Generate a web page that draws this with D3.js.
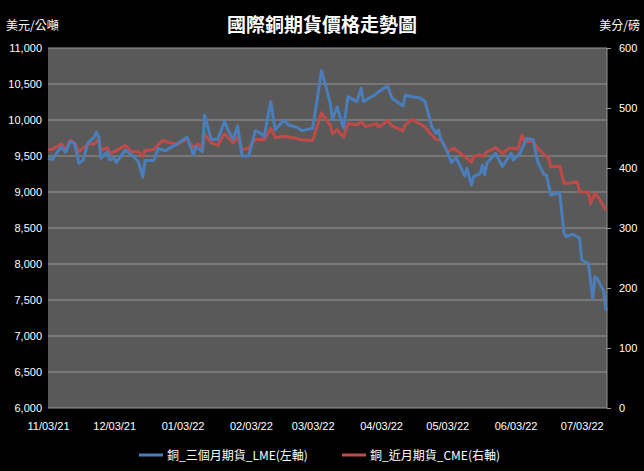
<!DOCTYPE html>
<html><head><meta charset="utf-8">
<script src="https://cdn.jsdelivr.net/npm/d3@7"></script>
<style>body{margin:0;background:#000}svg{display:block}text{font-family:"Noto Sans CJK TC","Noto Sans",sans-serif;fill:#fff}</style>
</head><body>
<script>
const lmeDates=["2021-11-03","2021-11-05","2021-11-09","2021-11-11","2021-11-13","2021-11-15","2021-11-17","2021-11-19","2021-11-21","2021-11-24","2021-11-25","2021-11-26","2021-11-27","2021-11-30","2021-12-01","2021-12-03","2021-12-04","2021-12-08","2021-12-11","2021-12-14","2021-12-16","2021-12-17","2021-12-21","2021-12-23","2021-12-26","2022-01-01","2022-01-05","2022-01-08","2022-01-09","2022-01-12","2022-01-13","2022-01-14","2022-01-16","2022-01-19","2022-01-22","2022-01-24","2022-01-26","2022-01-28","2022-01-30","2022-02-02","2022-02-05","2022-02-07","2022-02-09","2022-02-12","2022-02-14","2022-02-18","2022-02-20","2022-02-24","2022-02-26","2022-03-03","2022-03-05","2022-03-07","2022-03-09","2022-03-11","2022-03-12","2022-03-14","2022-03-17","2022-03-19","2022-03-23","2022-03-25","2022-03-26","2022-03-31","2022-04-02","2022-04-06","2022-04-08","2022-04-13","2022-04-14","2022-04-17","2022-04-21","2022-04-23","2022-04-26","2022-04-28","2022-04-29","2022-04-30","2022-05-03","2022-05-05","2022-05-07","2022-05-11","2022-05-12","2022-05-14","2022-05-15","2022-05-18","2022-05-19","2022-05-20","2022-05-21","2022-05-25","2022-05-28","2022-06-01","2022-06-02","2022-06-05","2022-06-08","2022-06-11","2022-06-13","2022-06-16","2022-06-17","2022-06-19","2022-06-23","2022-06-25","2022-06-26","2022-06-29","2022-07-02","2022-07-03","2022-07-06","2022-07-08","2022-07-09","2022-07-10","2022-07-13","2022-07-14"];
const lmeValues=[9472,9450,9629,9550,9699,9676,9400,9447,9676,9768,9828,9768,9468,9560,9447,9468,9410,9583,9514,9421,9204,9437,9437,9606,9570,9676,9759,9514,9630,9560,10069,9954,9731,9731,9977,9838,9731,9917,9500,9500,9852,9824,9768,10254,9861,10000,9930,9898,9852,9884,10278,10685,10463,10231,10000,10185,9889,10324,10255,10440,10255,10347,10394,10472,10301,10194,10347,10324,10301,10255,9907,9815,9861,9745,9560,9407,9481,9222,9329,9097,9213,9259,9375,9236,9398,9537,9352,9537,9444,9537,9745,9722,9421,9236,9236,8958,8990,8426,8380,8413,8357,8056,8010,7523,7824,7801,7616,7352];
const cmeDates=["2021-11-03","2021-11-05","2021-11-09","2021-11-11","2021-11-13","2021-11-15","2021-11-17","2021-11-21","2021-11-24","2021-11-26","2021-11-27","2021-11-30","2021-12-01","2021-12-04","2021-12-08","2021-12-11","2021-12-14","2021-12-16","2021-12-17","2021-12-21","2021-12-25","2021-12-28","2022-01-01","2022-01-05","2022-01-08","2022-01-10","2022-01-12","2022-01-13","2022-01-16","2022-01-19","2022-01-22","2022-01-26","2022-01-28","2022-01-30","2022-02-02","2022-02-05","2022-02-09","2022-02-12","2022-02-14","2022-02-18","2022-02-24","2022-02-26","2022-03-03","2022-03-07","2022-03-11","2022-03-12","2022-03-14","2022-03-17","2022-03-19","2022-03-23","2022-03-25","2022-03-27","2022-04-01","2022-04-02","2022-04-06","2022-04-08","2022-04-13","2022-04-14","2022-04-17","2022-04-21","2022-04-23","2022-04-26","2022-04-28","2022-04-30","2022-05-02","2022-05-03","2022-05-06","2022-05-11","2022-05-14","2022-05-15","2022-05-18","2022-05-19","2022-05-21","2022-05-25","2022-05-28","2022-05-31","2022-06-02","2022-06-04","2022-06-06","2022-06-07","2022-06-11","2022-06-13","2022-06-16","2022-06-18","2022-06-19","2022-06-23","2022-06-25","2022-06-28","2022-07-01","2022-07-02","2022-07-06","2022-07-07","2022-07-09","2022-07-11","2022-07-14"];
const cmeValues=[431,431,440,431,446,442,427,440,440,448,429,434,424,429,438,427,427,419,429,431,446,442,440,448,434,440,434,457,442,438,457,442,451,431,433,448,447,466,451,453,449,447,446,492,471,457,464,451,474,472,477,469,474,468,479,470,462,472,481,473,468,455,447,447,437,427,433,419,410,419,422,419,427,434,424,433,433,431,455,444,444,433,422,416,402,403,374,375,377,361,359,340,358,348,330];
const leftTicks=[6000,6500,7000,7500,8000,8500,9000,9500,10000,10500,11000];
const rightTicks=[0,100,200,300,400,500,600];
const xTickDates=["2021-11-03","2021-12-03","2022-01-03","2022-02-03","2022-03-03","2022-04-03","2022-05-03","2022-06-03","2022-07-03"];
const title="國際銅期貨價格走勢圖";
const leftUnit="美元/公噸", rightUnit="美分/磅";
const seriesNames=["銅_三個月期貨_LME(左軸)","銅_近月期貨_CME(右軸)"];
const colors=["#4a7ebb","#be4b48"];

const W=644,H=471,L=48,R=607,T=48,B=408;
const parse=d3.timeParse("%Y-%m-%d"), fmt=d3.timeFormat("%m/%d/%y");
const svg=d3.select("body").append("svg").attr("width",W).attr("height",H);
svg.append("rect").attr("width",W).attr("height",H).attr("fill","#000");
const x=d3.scaleTime().domain([parse("2021-11-03"),parse("2022-07-14")]).range([L,R-1]);
const yL=d3.scaleLinear().domain([6000,11000]).range([B,T]);
const yR=d3.scaleLinear().domain([0,600]).range([B,T]);
svg.append("rect").attr("x",L).attr("y",T).attr("width",R-L).attr("height",B-T).attr("fill","#595959");
svg.append("g").selectAll("line").data(leftTicks).join("line")
 .attr("x1",L).attr("x2",R).attr("y1",d=>yL(d)).attr("y2",d=>yL(d)).attr("stroke","#969696").attr("stroke-width",1);
svg.append("line").attr("x1",R).attr("x2",R).attr("y1",T).attr("y2",B).attr("stroke","#969696");
const gl=svg.append("g").attr("transform",`translate(${L},0)`).call(d3.axisLeft(yL).tickValues(leftTicks).tickSize(0).tickPadding(6));
const gr=svg.append("g").attr("transform",`translate(${R},0)`).call(d3.axisRight(yR).tickValues(rightTicks).tickSize(4).tickPadding(8));
const gx=svg.append("g").attr("transform",`translate(0,${B})`).call(d3.axisBottom(x).tickValues(xTickDates.map(parse)).tickFormat(fmt).tickSize(0).tickPadding(14));
[gl,gr,gx].forEach(g=>{g.select(".domain").remove();g.selectAll("text").attr("fill","#fff").style("font-size","11px").style("font-family","'Liberation Sans',Arial,sans-serif");g.selectAll("line").attr("stroke","#969696");});
const line=(ys)=>d3.line().x(d=>x(parse(d[0]))).y(d=>ys(d[1]));
svg.append("path").datum(d3.zip(cmeDates,cmeValues)).attr("d",line(yR)).attr("fill","none").attr("stroke",colors[1]).attr("stroke-width",3).attr("stroke-linejoin","round");
svg.append("path").datum(d3.zip(lmeDates,lmeValues)).attr("d",line(yL)).attr("fill","none").attr("stroke",colors[0]).attr("stroke-width",3).attr("stroke-linejoin","round");
svg.append("text").attr("x",W/2).attr("y",32).attr("text-anchor","middle").style("font-size","19px").style("font-weight","bold").text(title);
svg.append("text").attr("x",6).attr("y",30).style("font-size","12px").text(leftUnit);
svg.append("text").attr("x",640).attr("y",30).attr("text-anchor","end").style("font-size","12px").text(rightUnit);
const lx=[139,342];
seriesNames.forEach((n,i)=>{
 svg.append("line").attr("x1",lx[i]).attr("x2",lx[i]+24).attr("y1",455).attr("y2",455).attr("stroke",colors[i]).attr("stroke-width",3);
 svg.append("text").attr("x",lx[i]+28).attr("y",460).style("font-size","12px").text(n);
});
</script></body></html>
